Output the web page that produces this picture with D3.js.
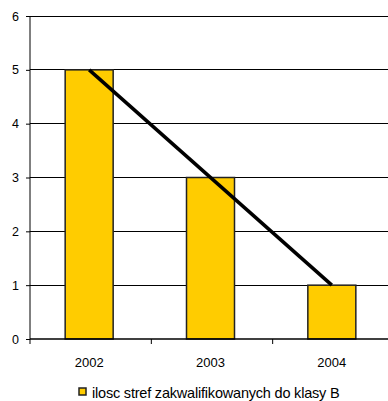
<!DOCTYPE html>
<html>
<head>
<meta charset="utf-8">
<script src="https://cdn.jsdelivr.net/npm/d3@7"></script>
<style>
  html, body { margin: 0; padding: 0; background: #fff; }
  svg { display: block; font-family: Arial, "Liberation Sans", sans-serif; }
</style>
</head>
<body>
<svg id="chart" width="388" height="401"></svg>
<script>
// Number of zones classified as class B, per year
const years = ["2002", "2003", "2004"];
const zoneCounts = [5, 3, 1];
const yTicks = [0, 1, 2, 3, 4, 5, 6];
const legendLabel = "ilosc stref zakwalifikowanych do klasy B";

const svg = d3.select("#chart");
const plotLeft = 30, plotRight = 394, plotTop = 16, plotBottom = 339;

const x = d3.scaleBand().domain(years).range([plotLeft, plotRight]).paddingInner(0).paddingOuter(0);
const y = d3.scaleLinear().domain([0, 6]).range([plotBottom, plotTop]);

// Horizontal gridlines
svg.append("g")
  .selectAll("line")
  .data(yTicks.filter(d => d > 0))
  .join("line")
  .attr("x1", plotLeft).attr("x2", plotRight)
  .attr("y1", d => y(d)).attr("y2", d => y(d))
  .attr("stroke", "#000").attr("stroke-width", 1)
  .attr("shape-rendering", "crispEdges");

// Y axis
const yAxis = svg.append("g")
  .attr("transform", `translate(${plotLeft},0)`)
  .call(d3.axisLeft(y).tickValues(yTicks).tickFormat(d3.format("d")).tickSize(4).tickPadding(7));
yAxis.select(".domain").attr("stroke", "#000").attr("d", `M0,${plotTop}V${plotBottom}`);
yAxis.selectAll("text").attr("font-size", 12.5).attr("fill", "#000")
  .attr("font-family", "Arial, 'Liberation Sans', sans-serif");

// Bars
const barW = 48;
svg.append("g")
  .selectAll("rect")
  .data(years.map((yr, i) => ({ yr, v: zoneCounts[i] })))
  .join("rect")
  .attr("x", d => x(d.yr) + x.bandwidth() / 2 - barW / 2 - 1.5)
  .attr("y", d => y(d.v))
  .attr("width", barW)
  .attr("height", d => y(0) - y(d.v))
  .attr("fill", "#FFCC00")
  .attr("stroke", "#222")
  .attr("stroke-width", 1.5);

// X axis with ticks between categories
const xg = svg.append("g").attr("transform", `translate(0,${plotBottom})`);
xg.append("line").attr("x1", plotLeft).attr("x2", plotRight).attr("y1", 0).attr("y2", 0)
  .attr("stroke", "#000").attr("stroke-width", 1.5);
xg.selectAll("line.tick")
  .data(years.concat(["end"]))
  .join("line")
  .attr("class", "tick")
  .attr("x1", (d, i) => plotLeft + i * x.bandwidth())
  .attr("x2", (d, i) => plotLeft + i * x.bandwidth())
  .attr("y1", 0).attr("y2", 5)
  .attr("stroke", "#000");
xg.selectAll("text")
  .data(years)
  .join("text")
  .attr("x", d => x(d) + x.bandwidth() / 2 - 1.5)
  .attr("y", 28)
  .attr("text-anchor", "middle")
  .attr("font-size", 13)
  .text(d => d);

// Trend line through bar tops
const line = d3.line()
  .x(d => x(d.yr) + x.bandwidth() / 2 - 1.5)
  .y(d => y(d.v));
const ends = [0, years.length - 1].map(i => ({ yr: years[i], v: zoneCounts[i] }));
svg.append("path")
  .datum(ends)
  .attr("d", line)
  .attr("fill", "none")
  .attr("stroke", "#000")
  .attr("stroke-width", 3.5);

// Legend
const lg = svg.append("g").attr("transform", "translate(79,388)");
lg.append("rect").attr("x", 0).attr("y", 0).attr("width", 7).attr("height", 7)
  .attr("fill", "#FFCC00").attr("stroke", "#222").attr("stroke-width", 1.5);
lg.append("text").attr("x", 13).attr("y", 10).attr("font-size", 14.5)
  .attr("letter-spacing", -0.2)
  .text(legendLabel);
</script>
</body>
</html>
